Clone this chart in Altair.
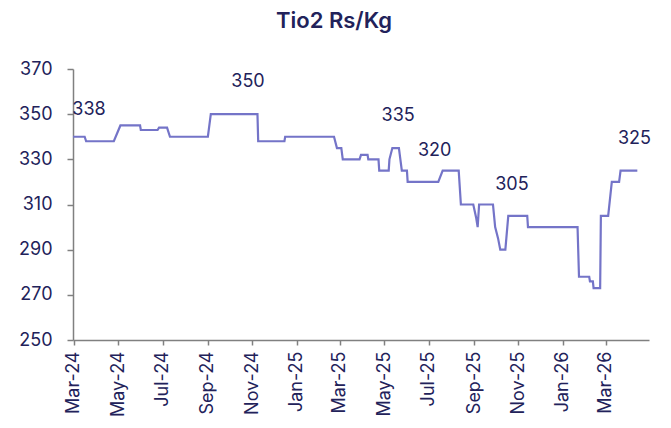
import altair as alt
import pandas as pd

# ---- data ----
dates = [
    "2024-02-29", "2024-03-16", "2024-03-18", "2024-04-25", "2024-05-04",
    "2024-05-31", "2024-06-01", "2024-06-24", "2024-06-26", "2024-07-07",
    "2024-07-11", "2024-09-01", "2024-09-05", "2024-11-08", "2024-11-09",
    "2024-12-15", "2024-12-16", "2025-02-21", "2025-02-25", "2025-03-03",
    "2025-03-05", "2025-03-28", "2025-03-30", "2025-04-08", "2025-04-09",
    "2025-04-23", "2025-04-24", "2025-05-07", "2025-05-08", "2025-05-12",
    "2025-05-21", "2025-05-25", "2025-06-01", "2025-06-02", "2025-07-14",
    "2025-07-20", "2025-08-11", "2025-08-14", "2025-08-31", "2025-09-04",
    "2025-09-06", "2025-09-08", "2025-09-27", "2025-09-30", "2025-10-04",
    "2025-10-07", "2025-10-14", "2025-10-18", "2025-11-13", "2025-11-14",
    "2026-01-21", "2026-01-23", "2026-02-06", "2026-02-07", "2026-02-11",
    "2026-02-12", "2026-02-21", "2026-02-22", "2026-03-04", "2026-03-09",
    "2026-03-19", "2026-03-21", "2026-04-13",
]
prices = [
    340, 340, 338, 338, 345,
    345, 343, 343, 344, 344,
    340, 340, 350, 350, 338,
    338, 340, 340, 335, 335,
    330, 330, 332, 332, 330,
    330, 325, 325, 330, 335,
    335, 325, 325, 320, 320,
    325, 325, 310, 310, 304,
    300, 310, 310, 300, 295,
    290, 290, 305, 305, 300,
    300, 278, 278, 276, 276,
    273, 273, 305, 305, 320,
    320, 325, 325,
]

label_text = ["338", "350", "335", "320", "305", "325"]
label_dates = ["2024-03-22", "2024-10-26", "2025-05-20", "2025-07-09", "2025-10-23", "2026-04-09"]
label_y = [351.9, 364.1, 349.2, 333.9, 318.6, 339.0]

title_text = ["Tio2 Rs/Kg"]

y_ticks = [250, 270, 290, 310, 330, 350, 370]
x_tick_months = [(2024, 3), (2024, 5), (2024, 7), (2024, 9), (2024, 11),
                 (2025, 1), (2025, 3), (2025, 5), (2025, 7), (2025, 9),
                 (2025, 11), (2026, 1), (2026, 3)]

df = pd.DataFrame({"date": dates, "price": prices})
lab = pd.DataFrame({"date": label_dates, "y": label_y, "text": label_text})
ttl = pd.DataFrame({"text": title_text})

NAVY = "#22225a"
LINE = "#7474c8"
FONT = "Inter"

x_scale = alt.Scale(type="utc", domain=[alt.DateTime(year=2024, month=2, date=29, utc=True),
                                        alt.DateTime(year=2026, month=4, date=29, utc=True)])
y_scale = alt.Scale(domain=[250, 370], nice=False, zero=False)

x_axis = alt.Axis(
    values=[alt.DateTime(year=y, month=m, date=1, utc=True) for y, m in x_tick_months],
    labelExpr="utcFormat(datum.value, '%b-%y')", labelAngle=270, title=None, grid=False,
    labelFontSize=18, labelColor=NAVY, labelFont=FONT, labelPadding=6,
    tickSize=5, tickColor="#808080", domainColor="#808080", domainWidth=1.5, tickWidth=1.5,
)
y_axis = alt.Axis(
    values=y_ticks, title=None, grid=False,
    labelFontSize=18, labelColor=NAVY, labelFont=FONT, labelPadding=15,
    tickSize=6, tickColor="#808080", domainColor="#808080", domainWidth=1.5, tickWidth=1.5,
)

line = alt.Chart(df).mark_line(color=LINE, strokeWidth=2.2).encode(
    x=alt.X("date:T", scale=x_scale, axis=x_axis),
    y=alt.Y("price:Q", scale=y_scale, axis=y_axis),
)

texts = alt.Chart(lab).mark_text(
    fontSize=18, color=NAVY, font=FONT, align="center", baseline="middle"
).encode(
    x=alt.X("date:T", scale=x_scale, axis=x_axis),
    y=alt.Y("y:Q", scale=y_scale, axis=y_axis),
    text="text:N",
)

title = alt.Chart(ttl).mark_text(
    fontSize=22, fontWeight=600, color=NAVY, font=FONT, align="center", baseline="alphabetic"
).encode(
    x=alt.value(261), y=alt.value(-41), text="text:N",
)

chart = alt.layer(line, texts, title).properties(
    width=576, height=271,
    autosize=alt.AutoSizeParams(type="none"),
    padding={"left": 65, "top": 61, "right": 14, "bottom": 80},
).configure_view(stroke=None)

chart.save("out.html", embed_options={"renderer": "svg", "actions": False})
